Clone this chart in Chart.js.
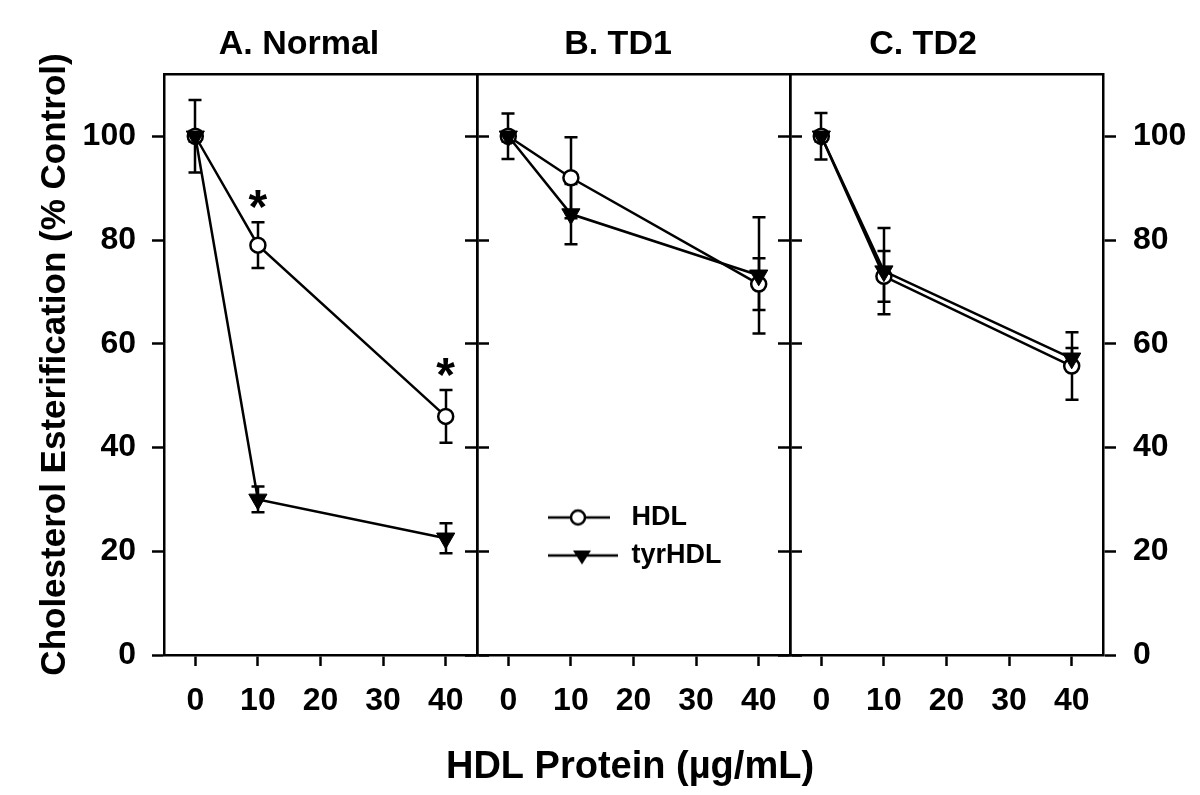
<!DOCTYPE html>
<html><head><meta charset="utf-8">
<script src="https://cdn.jsdelivr.net/npm/chart.js@4.4.1/dist/chart.umd.min.js"></script>
<style>
html,body{margin:0;padding:0;background:#fff;}
#wrap{position:relative;width:1200px;height:795px;overflow:hidden;}
#wrap canvas{position:absolute;}
</style></head><body>
<div id="wrap">
<canvas id="cA" width="1200" height="795" style="left:0;top:0"></canvas>
<canvas id="cB" width="1200" height="795" style="left:0;top:0"></canvas>
<canvas id="cC" width="1200" height="795" style="left:0;top:0"></canvas>
<canvas id="cX" width="1200" height="795" style="left:0;top:0"></canvas>
<canvas id="cL" width="260" height="100" style="left:537px;top:493px"></canvas>
</div>
<script>
// ---------------- data ----------------
const doses = [0, 10, 40];
const xTickValues = [0, 10, 20, 30, 40];
const yTickValues = [0, 20, 40, 60, 80, 100];
const panelTitles = ['A. Normal', 'B. TD1', 'C. TD2'];
const seriesNames = ['HDL', 'tyrHDL'];
const xAxisTitle = 'HDL Protein (µg/mL)';
const yAxisTitle = 'Cholesterol Esterification (% Control)';

const normalHDL    = [100, 79, 46];
const normalHDLErr = [7, 4.4, 5.1];
const normalTyr    = [100, 30, 22.5];
const normalTyrErr = [1, 2.5, 2.9];
const normalSignif = [false, true, true];

const td1HDL    = [100, 92, 71.5];
const td1HDLErr = [4.4, 7.8, 5];
const td1Tyr    = [100, 85, 73.2];
const td1TyrErr = [1, 5.8, 11.2];

const td2HDL    = [100, 73, 55.7];
const td2HDLErr = [4.5, 4.9, 6.5];
const td2Tyr    = [100, 74, 57.2];
const td2TyrErr = [1, 8.3, 2];

// ---------------- styles ----------------
const BLACK = '#000';
const LW = 2.5;
const SANS = '"Liberation Sans", Arial, sans-serif';
const tickFont = {family: SANS, weight: 'bold', size: 32};
const titleFont = {family: SANS, weight: 'bold', size: 34, lineHeight: 1.2};

function pts(vals) { return doses.map((d, i) => ({x: d, y: vals[i]})); }

const errorBarPlugin = {
  id: 'errorBars',
  beforeDatasetsDraw(chart) {
    const {ctx} = chart;
    const xs = chart.scales.x, ys = chart.scales.y;
    if (!xs || !ys) return;
    ctx.save();
    ctx.strokeStyle = BLACK; ctx.lineWidth = LW;
    chart.data.datasets.forEach(ds => {
      if (!ds.errors) return;
      ds.data.forEach((p, j) => {
        const e = ds.errors[j];
        const px = Math.round(xs.getPixelForValue(p.x));
        const top = ys.getPixelForValue(p.y + e), bot = ys.getPixelForValue(p.y - e);
        ctx.beginPath();
        ctx.moveTo(px, top); ctx.lineTo(px, bot);
        ctx.moveTo(px - 6.5, top); ctx.lineTo(px + 6.5, top);
        ctx.moveTo(px - 6.5, bot); ctx.lineTo(px + 6.5, bot);
        ctx.stroke();
      });
    });
    ctx.restore();
  },
  afterDatasetsDraw(chart) {
    const {ctx} = chart;
    const xs = chart.scales.x, ys = chart.scales.y;
    if (!xs || !ys) return;
    ctx.save();
    ctx.fillStyle = BLACK;
    ctx.font = 'bold 48px ' + SANS;
    ctx.textAlign = 'center';
    ctx.textBaseline = 'alphabetic';
    chart.data.datasets.forEach(ds => {
      if (!ds.signif) return;
      ds.data.forEach((p, j) => {
        if (!ds.signif[j]) return;
        const px = xs.getPixelForValue(p.x);
        const py = ys.getPixelForValue(p.y + ds.errors[j] + 5.2);
        ctx.fillText('*', px, py + 48 * 0.58);
      });
    });
    ctx.restore();
  }
};

function fixedTicks(values) { return s => { s.ticks = values.map(v => ({value: v})); }; }

function yAxis(pos, width, showLabels, tickLen, extra) {
  return Object.assign({
    type: 'linear', position: pos, min: 0, max: 112,
    afterBuildTicks: fixedTicks(yTickValues),
    afterFit: s => { s.width = width; },
    grid: {display: true, drawOnChartArea: false, drawTicks: true, tickLength: tickLen, tickWidth: LW, tickColor: BLACK},
    border: {display: true, color: BLACK, width: LW},
    ticks: {display: showLabels, color: BLACK, font: tickFont, padding: pos === 'left' ? 16 : 17}
  }, extra || {});
}

function makePanel(id, idx, hdl, hdlErr, tyr, tyrErr, signif, cfg) {
  const scales = {
    x: {
      type: 'linear', position: 'bottom', min: -5, max: 45,
      afterBuildTicks: fixedTicks(xTickValues),
      afterFit: s => { s.height = 140; },
      grid: {display: true, drawOnChartArea: false, drawTicks: true, tickLength: 11, tickWidth: LW, tickColor: BLACK},
      border: {display: true, color: BLACK, width: LW},
      ticks: {color: BLACK, font: tickFont, padding: 16, maxRotation: 0, autoSkip: false}
    },
    xTop: {
      type: 'linear', position: 'top', min: -5, max: 45,
      afterFit: s => { s.height = 0; },
      grid: {display: false}, ticks: {display: false},
      border: {display: true, color: BLACK, width: LW}
    },
    y: yAxis('left', cfg.yLw, cfg.leftLabels, cfg.leftTick, cfg.yTitle ? {
      title: {display: true, text: yAxisTitle, color: BLACK,
        font: {family: SANS, weight: 'bold', size: 35, lineHeight: 1.2},
        padding: {top: 34, bottom: 0}}
    } : {}),
    yR: yAxis('right', cfg.yRw, cfg.rightLabels, cfg.rightTick)
  };
  return new Chart(document.getElementById(id), {
    type: 'line',
    data: {
      datasets: [
        {label: seriesNames[1], data: pts(tyr), errors: tyrErr,
         borderColor: BLACK, borderWidth: LW, fill: false, tension: 0,
         pointStyle: 'triangle', rotation: 180, pointRadius: 10.5, pointHoverRadius: 10.5,
         pointBackgroundColor: BLACK, pointBorderColor: BLACK, pointBorderWidth: 1},
        {label: seriesNames[0], data: pts(hdl), errors: hdlErr, signif: signif,
         borderColor: BLACK, borderWidth: LW, fill: false, tension: 0,
         pointStyle: 'circle', pointRadius: 7.5, pointHoverRadius: 7.5,
         pointBackgroundColor: '#fff', pointBorderColor: BLACK, pointBorderWidth: LW}
      ]
    },
    options: {
      responsive: false, maintainAspectRatio: false, animation: false,
      events: [],
      layout: {padding: cfg.padding},
      scales: scales,
      plugins: {
        legend: {display: false},
        tooltip: {enabled: false},
        title: {display: true, text: panelTitles[idx], color: BLACK, font: titleFont,
                padding: {top: 0, bottom: 9}}
      }
    },
    plugins: [errorBarPlugin]
  });
}

// title box height = 34*1.2 + 9 = 49.8 ; top padding keeps chart area top at 74
makePanel('cA', 0, normalHDL, normalHDLErr, normalTyr, normalTyrErr, normalSignif, {
  padding: {left: 0, right: 602, top: 24.2, bottom: 0},
  yLw: 164, yRw: 121, leftLabels: true, rightLabels: false, leftTick: 12, rightTick: 12, yTitle: true
});
makePanel('cB', 1, td1HDL, td1HDLErr, td1Tyr, td1TyrErr, null, {
  padding: {left: 400, right: 364, top: 24.2, bottom: 0},
  yLw: 77, yRw: 46, leftLabels: false, rightLabels: false, leftTick: 12, rightTick: 12
});
makePanel('cC', 2, td2HDL, td2HDLErr, td2Tyr, td2TyrErr, null, {
  padding: {left: 646, right: 0, top: 24.2, bottom: 0},
  yLw: 144, yRw: 97, leftLabels: false, rightLabels: true, leftTick: 12, rightTick: 13
});

// ---------------- shared x-axis title ----------------
new Chart(document.getElementById('cX'), {
  type: 'line',
  data: {datasets: []},
  options: {
    responsive: false, maintainAspectRatio: false, animation: false, events: [],
    layout: {padding: {left: 420, right: 360, top: 0, bottom: 0}},
    scales: {x: {display: false}, y: {display: false}},
    plugins: {
      legend: {display: false}, tooltip: {enabled: false},
      title: {display: true, position: 'bottom', text: xAxisTitle, color: BLACK,
              font: {family: SANS, weight: 'bold', size: 38, lineHeight: 1.2},
              padding: {top: 0, bottom: 5}}
    }
  }
});

// ---------------- legend ----------------
function legendImage(kind) {
  const c = document.createElement('canvas');
  c.width = 70; c.height = 24;
  const g = c.getContext('2d');
  g.strokeStyle = BLACK; g.lineWidth = LW;
  g.beginPath(); g.moveTo(0, 12); g.lineTo(kind === 'circle' ? 62 : 70, 12); g.stroke();
  if (kind === 'circle') {
    g.beginPath(); g.arc(30, 12, 7, 0, Math.PI * 2);
    g.fillStyle = '#fff'; g.fill(); g.stroke();
  } else {
    g.beginPath();
    g.moveTo(34 - 9, 12 - 5); g.lineTo(34 + 9, 12 - 5); g.lineTo(34, 12 + 9);
    g.closePath(); g.fillStyle = BLACK; g.fill();
  }
  return c;
}
const legendImgs = [legendImage('circle'), legendImage('triangle')];

new Chart(document.getElementById('cL'), {
  type: 'line',
  data: {datasets: seriesNames.map(n => ({label: n, data: []}))},
  options: {
    responsive: false, maintainAspectRatio: false, animation: false, events: [],
    scales: {x: {display: false}, y: {display: false}},
    plugins: {
      tooltip: {enabled: false},
      legend: {
        display: true, position: 'top', align: 'start', maxHeight: 100,
        labels: {
          usePointStyle: true, pointStyleWidth: 70, padding: 11, color: BLACK,
          font: {family: SANS, weight: 'bold', size: 27},
          generateLabels: chart => chart.data.datasets.map((ds, i) => ({
            text: ds.label, pointStyle: legendImgs[i], fillStyle: BLACK, strokeStyle: BLACK,
            lineWidth: 0, hidden: false, datasetIndex: i, fontColor: BLACK
          }))
        }
      }
    }
  }
});
</script>
</body></html>
